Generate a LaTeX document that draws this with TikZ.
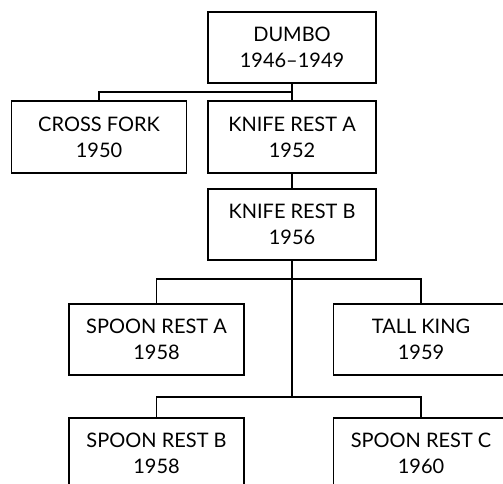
\documentclass[tikz,border=0pt]{standalone}
\usepackage{fontspec}
\setmainfont{Lato}
\usepackage{tikz}
\usetikzlibrary{positioning}
\tikzset{
  caja/.style={
    draw=black,
    line width=1.3pt,
    align=center,
    minimum width=168pt,
    minimum height=71pt,
    inner sep=0pt,
    font=\fontsize{20}{26}\selectfont
  },
  ancha/.style={
    minimum width=175pt
  },
  linea/.style={
    line width=1.3pt,
    black
  }
}
\begin{document}
\begin{tikzpicture}[x=1pt,y=1pt]
\clip (0,0) rectangle (503,484);
\useasboundingbox (0,0) rectangle (503,484);
\node[caja] (dumbo) at (292,436.5) {DUMBO\\1946--1949};
\node[caja, ancha, minimum height=72pt] (cf) at (99,347) {CROSS FORK\\1950};
\node[caja, minimum height=72pt] (kra) at (292,347) {KNIFE REST A\\1952};
\node[caja] (krb) at (292,259.5) {KNIFE REST B\\1956};
\node[caja, ancha] (sra) at (156.5,144.5) {SPOON REST A\\1958};
\node[caja, ancha] (tk) at (421,144.5) {TALL KING\\1959};
\node[caja, ancha] (srb) at (156.5,30.5) {SPOON REST B\\1958};
\node[caja, ancha] (src) at (421,30.5) {SPOON REST C\\1960};
% ramas
\coordinate (b1) at (292,392);
\coordinate (b2) at (292,205);
\coordinate (b3) at (292,87);
\draw[linea] (dumbo) -- (kra);
\draw[linea] (b1) -| (cf);
\draw[linea] (kra) -- (krb);
\draw[linea] (krb) -- (b3);
\draw[linea] (b2) -| (sra);
\draw[linea] (b2) -| (tk);
\draw[linea] (b3) -| (srb);
\draw[linea] (b3) -| (src);
\end{tikzpicture}
\end{document}
